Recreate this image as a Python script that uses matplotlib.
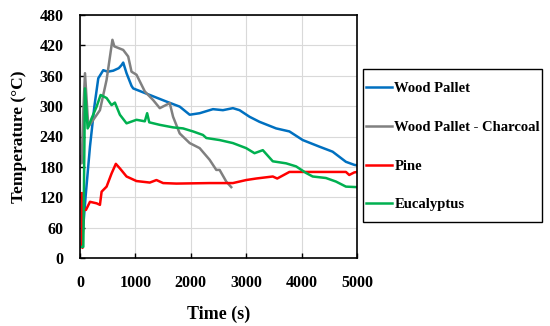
import matplotlib
matplotlib.use("Agg")
import matplotlib.pyplot as plt
from matplotlib.patches import Rectangle

plt.rcParams['font.family'] = ['Liberation Serif', 'DejaVu Serif']
plt.rcParams['font.weight'] = 'bold'

# time (s) / temperature (°C)
pallet_t = [30, 100, 180, 260, 330, 420, 500, 600, 700, 750, 780, 840, 930, 960, 1260,
            1560, 1800, 1980, 2160, 2400, 2580, 2760, 2880, 3060, 3240, 3540, 3780,
            4020, 4320, 4560, 4800, 4950, 5000]
pallet_T = [22, 120, 220, 300, 355, 371, 368, 370, 375, 381, 386, 365, 340, 335, 322,
            309, 299, 283, 286, 294, 292, 296, 292, 279, 269, 256, 250,
            233, 220, 210, 190, 184, 183]

charcoal_t = [0, 30, 60, 90, 150, 240, 360, 480, 585, 620, 780, 870, 930, 1020, 1170,
              1320, 1440, 1620, 1680, 1800, 1980, 2160, 2340, 2460, 2520, 2640, 2730]
charcoal_T = [200, 187, 290, 365, 259, 273, 292, 352, 431, 418, 411, 398, 368, 362, 329,
              312, 296, 306, 279, 246, 227, 217, 194, 174, 174, 151, 140]

pine_t = [30, 45, 60, 108, 180, 300, 360, 390, 480, 570, 647, 720, 840, 1020, 1260,
          1380, 1500, 1740, 2340, 2760, 3000, 3180, 3480, 3560, 3780, 4200,
          4800, 4860, 4950, 5000]
pine_T = [128, 20, 95, 95, 111, 108, 105, 131, 141, 167, 186, 177, 161, 152, 149,
          154, 148, 147, 148, 148, 154, 157, 161, 157, 170, 170,
          170, 164, 169, 170]

euc_t = [30, 60, 90, 138, 210, 300, 372, 480, 570, 630, 720, 840, 1020, 1170, 1212,
         1250, 1440, 1680, 1860, 2040, 2220, 2280, 2520, 2760, 3000, 3150, 3300,
         3480, 3720, 3900, 4080, 4200, 4440, 4620, 4800, 5000]
euc_T = [22, 22, 335, 256, 276, 299, 322, 316, 302, 307, 283, 266, 273, 270, 286,
         268, 263, 258, 256, 250, 243, 237, 233, 227, 217, 207, 213,
         191, 187, 181, 168, 161, 158, 151, 141, 140]

W, H = 550, 326
fig = plt.figure(figsize=(5.5, 3.26), dpi=100)
ax = fig.add_axes([80 / W, 1 - 258 / H, 277 / W, 243 / H])

ax.plot(pallet_t, pallet_T, color='#0070C0', lw=1.8, label='Wood Pallet')
ax.plot(charcoal_t, charcoal_T, color='#808080', lw=1.8, label='Wood Pallet - Charcoal')
ax.plot(pine_t, pine_T, color='#FF0000', lw=1.8, label='Pine')
ax.plot(euc_t, euc_T, color='#00B050', lw=1.8, label='Eucalyptus')

ax.set_xlim(0, 5000)
ax.set_ylim(0, 480)
ax.set_xticks(range(0, 5001, 1000))
ax.set_yticks(range(0, 481, 60))
ax.grid(True, color='#D9D9D9', lw=0.8)
ax.set_axisbelow(True)
for s in ax.spines.values():
    s.set_color('black')
    s.set_linewidth(1.2)
ax.tick_params(labelsize=11.5, direction='in', length=3.5, width=1.0, pad=12)
ax.set_xlabel('Time (s)', fontsize=13, fontweight='bold')
ax.set_ylabel('Temperature (°C)', fontsize=12.5, fontweight='bold')
ax.xaxis.set_label_coords(0.5, -0.195)
ax.yaxis.set_label_coords(-0.19, 0.5)

# legend entries without frame, box drawn separately
leg = fig.legend(loc='upper left', bbox_to_anchor=(366 / W, 1 - 82 / H), fontsize=10.5,
                 frameon=False, labelspacing=1.75, handlelength=1.8,
                 handletextpad=0.15, borderpad=0, borderaxespad=0)
fig.add_artist(Rectangle((363 / W, 1 - 222 / H), 179 / W, 153 / H,
                         transform=fig.transFigure, fill=False,
                         edgecolor='black', lw=1.0))

fig.savefig('out.png', dpi=100)
